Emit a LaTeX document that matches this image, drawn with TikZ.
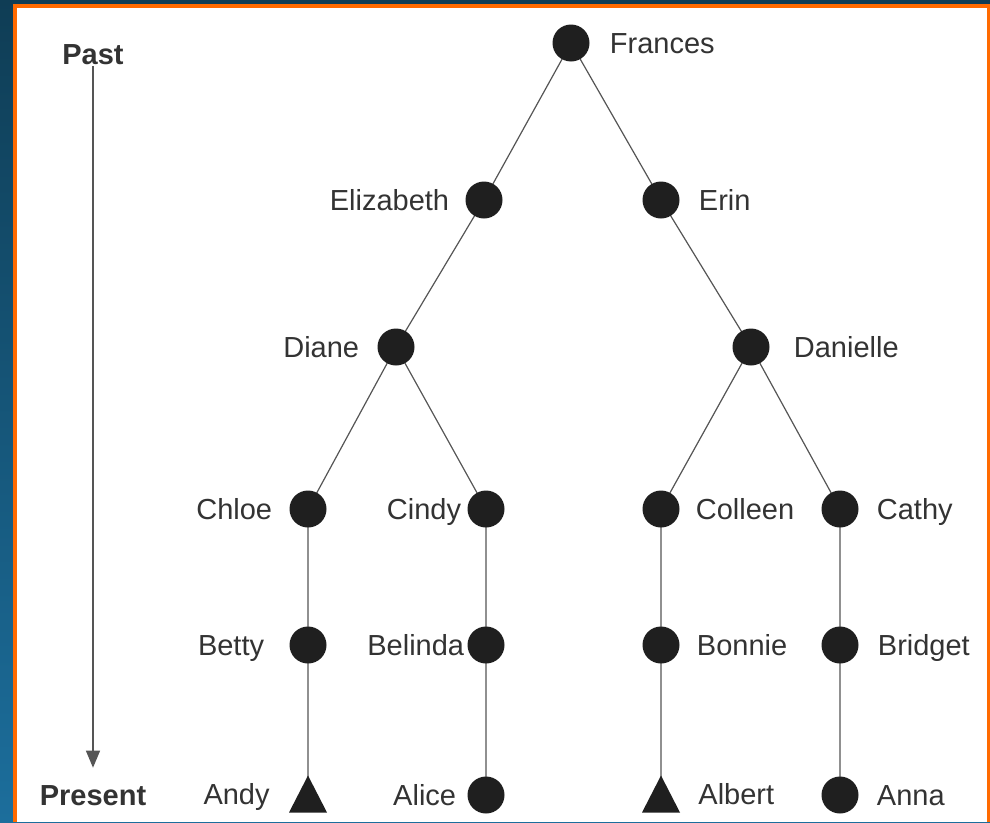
\documentclass[tikz,border=0pt]{standalone}
\usepackage{fontspec}
\setmainfont{Liberation Sans}
\usetikzlibrary{arrows.meta}
\definecolor{frameorange}{HTML}{FF6A00}
\definecolor{bgtop}{HTML}{0F3D55}
\definecolor{bgbottom}{HTML}{1C6E9C}
\definecolor{inkgray}{HTML}{333333}
\definecolor{linegray}{HTML}{555555}

\begin{document}
\begin{tikzpicture}[x=1pt,y=-1pt,
    every node/.style={font=\fontsize{29}{34}\selectfont,text=inkgray,inner sep=1pt},
    every label/.style={text height=20.5pt,text depth=0pt},
    female/.style={circle,fill=black!88,minimum size=37pt,inner sep=0pt},
    male/.style={minimum width=38pt,minimum height=37pt,inner sep=0pt,
        path picture={\fill[black!88] (path picture bounding box.south west)
            -- (path picture bounding box.south east) -- (path picture bounding box.north) -- cycle;}},
    tie/.style={linegray,line width=1.2pt}]

    % Define the frame
    \useasboundingbox (0,0) rectangle (990,822);
    \shade[top color=bgtop,bottom color=bgbottom] (0,0) rectangle (990,822);
    \fill[frameorange] (13,4) rectangle (990,822);
    \fill[white] (17,8) rectangle (987,822);

    % time axis
    \node (past) at (93,55) {\bfseries Past};
    \node (present) at (93,796) {\bfseries Present};
    \draw[linegray,line width=1.2pt,-{Triangle[length=17pt,width=14pt]},shorten >=17pt] (past.south) -- (present.north);

    % generations
    \coordinate (gFrances) at (571,43);
    \coordinate (gElizabeth) at (484,200);
    \coordinate (gErin) at (661,200);
    \coordinate (gDiane) at (396,347);
    \coordinate (gDanielle) at (751,347);

    \draw[tie] (gFrances) -- (gElizabeth) -- (gDiane) -- (308,509) -- (308,794);
    \draw[tie] (gFrances) -- (gErin) -- (gDanielle) -- (661,509) -- (661,794);
    \draw[tie] (gDiane) -- (486,509) -- (486,795);
    \draw[tie] (gDanielle) -- (840,509) -- (840,795);

    \node[female,label={[label distance=19pt]right:Frances}] (frances) at (gFrances) {};
    \node[female,label={[label distance=15pt]left:Elizabeth}] (elizabeth) at (gElizabeth) {};
    \node[female,label={[label distance=18pt]right:Erin}] (erin) at (gErin) {};
    \node[female,label={[label distance=17pt]left:Diane}] (diane) at (gDiane) {};
    \node[female,label={[label distance=23pt]right:Danielle}] (danielle) at (gDanielle) {};

    \node[female,label={[label distance=16pt]left:Chloe}] (chloe) at (308,509) {};
    \node[female,label={[label distance=5pt]left:Cindy}] (cindy) at (486,509) {};
    \node[female,label={[label distance=15pt]right:Colleen}] (colleen) at (661,509) {};
    \node[female,label={[label distance=17pt]right:Cathy}] (cathy) at (840,509) {};

    \node[female,label={[label distance=24pt]left:Betty}] (betty) at (308,645) {};
    \node[female,label={[label distance=2pt]left:Belinda}] (belinda) at (486,645) {};
    \node[female,label={[label distance=16pt]right:Bonnie}] (bonnie) at (661,645) {};
    \node[female,label={[label distance=18pt]right:Bridget}] (bridget) at (840,645) {};

    \node[male,label={[label distance=18pt]left:Andy}] (andy) at (308,794) {};
    \node[female,label={[label distance=10pt]left:Alice}] (alice) at (486,795) {};
    \node[male,label={[label distance=17pt]right:Albert}] (albert) at (661,794) {};
    \node[female,label={[label distance=17pt]right:Anna}] (anna) at (840,795) {};

\end{tikzpicture}
\end{document}
